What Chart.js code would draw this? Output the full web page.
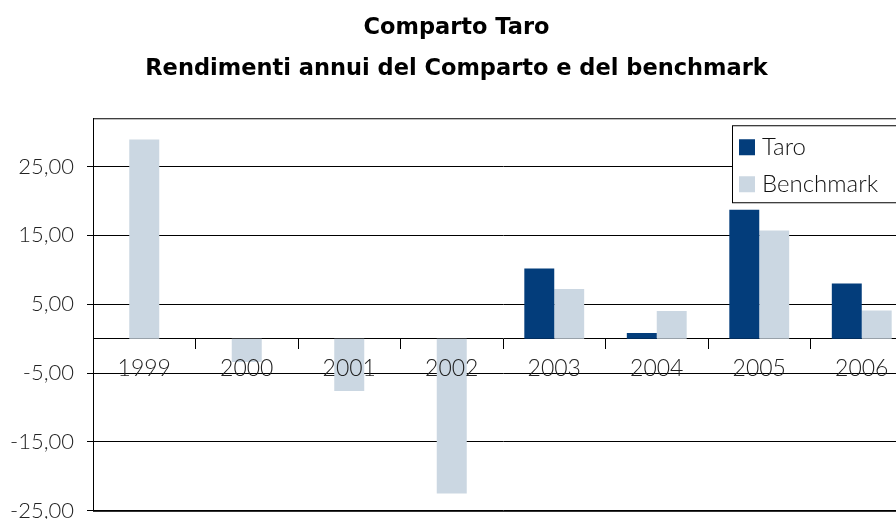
<!DOCTYPE html>
<html>
<head>
<meta charset="utf-8">
<script src="https://cdn.jsdelivr.net/npm/chart.js@4"></script>
<style>
  html, body { margin: 0; padding: 0; background: #fff; overflow: hidden; }
  #wrap { position: relative; width: 920px; height: 537px; }
</style>
</head>
<body>
<div id="wrap"><canvas id="rendChart"></canvas></div>
<script>
// Data
const years = ['1999', '2000', '2001', '2002', '2003', '2004', '2005', '2006'];
const taro = [null, null, null, null, 10.2, 0.8, 18.7, 8.0];
const benchmark = [28.9, -3.4, -7.6, -22.5, 7.2, 4.0, 15.7, 4.1];
const yTicks = [-25, -15, -5, 5, 15, 25];

const lightFont = 'Lato, "DejaVu Sans", sans-serif';
const titleFont = '"DejaVu Sans", sans-serif';

// Italian number format: 25,00
const fmt = v => v.toFixed(2).replace('.', ',');

// Legend box drawn inside the plot, top right
const boxLegend = {
    id: 'boxLegend',
    afterDraw(chart) {
        const { ctx, chartArea } = chart;
        const left = chartArea.right - 181;
        const top = chartArea.top + 7;
        ctx.save();
        ctx.fillStyle = '#fff';
        ctx.fillRect(left, top, 200, 77);
        ctx.strokeStyle = '#000';
        ctx.lineWidth = 1;
        ctx.strokeRect(left + 0.5, top + 0.5, 200, 77);
        ctx.font = '300 24px ' + lightFont;
        ctx.textBaseline = 'middle';
        chart.data.datasets.forEach((ds, i) => {
            const cy = top + 22 + i * 37;
            ctx.fillStyle = ds.backgroundColor;
            ctx.fillRect(left + 7, cy - 8, 16, 16);
            ctx.fillStyle = '#111';
            ctx.fillText(ds.label, left + 30, cy);
        });
        ctx.restore();
    }
};

// Frame around the plot area (top and left edges visible)
const plotFrame = {
    id: 'plotFrame',
    beforeDatasetsDraw(chart) {
        const { ctx, chartArea } = chart;
        ctx.save();
        ctx.strokeStyle = '#000';
        ctx.lineWidth = 1;
        ctx.strokeRect(chartArea.left + 0.5, chartArea.top + 0.5,
            chartArea.right - chartArea.left, chartArea.bottom - chartArea.top);
        ctx.restore();
    }
};

new Chart(document.getElementById('rendChart'), {
    type: 'bar',
    data: {
        labels: years,
        datasets: [
            { label: 'Taro', data: taro, backgroundColor: '#033d7b' },
            { label: 'Benchmark', data: benchmark, backgroundColor: '#cbd7e2' }
        ]
    },
    options: {
        responsive: true,
        maintainAspectRatio: false,
        animation: false,
        layout: { padding: { left: 0, right: 7, top: 0, bottom: 0 } },
        datasets: {
            bar: {
                skipNull: true,
                categoryPercentage: 0.584,
                barPercentage: 1,
                maxBarThickness: 30
            }
        },
        plugins: {
            legend: { display: false },
            tooltip: { enabled: false },
            title: {
                display: true,
                text: ['Comparto Taro', 'Rendimenti annui del Comparto e del benchmark'],
                color: '#000',
                font: { family: titleFont, size: 22.5, weight: 'bold', lineHeight: 1.85 },
                padding: { top: 7, bottom: 28 }
            }
        },
        scales: {
            x: {
                position: { y: 0 },
                afterFit: scale => { scale.height = 0; },
                grid: {
                    offset: true,
                    drawOnChartArea: false,
                    color: '#000',
                    tickLength: 10
                },
                border: { display: true, color: '#000' },
                ticks: {
                    z: 1, // year labels sit on top of the bars
                    color: '#222',
                    padding: 6,
                    font: { family: lightFont, size: 23, weight: 300 }
                }
            },
            y: {
                min: -25,
                max: 32,
                afterBuildTicks: scale => {
                    scale.ticks = yTicks.map(v => ({ value: v }));
                },
                afterFit: scale => { scale.width = 93; },
                grid: { color: '#000', tickLength: 6 },
                border: { display: true, color: '#000' },
                ticks: {
                    color: '#222',
                    padding: 13,
                    font: { family: lightFont, size: 22, weight: 300 },
                    callback: v => fmt(v)
                }
            }
        }
    },
    plugins: [plotFrame, boxLegend]
});
</script>
</body>
</html>
